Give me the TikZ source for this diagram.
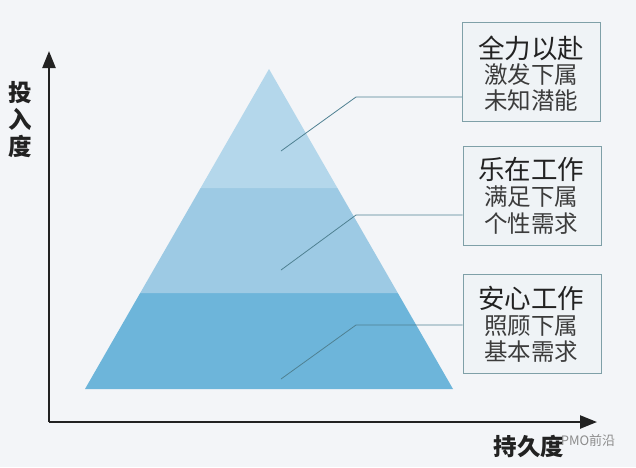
\documentclass[tikz,border=0pt]{standalone}
\usepackage{fontspec}
\setmainfont{Noto Sans CJK SC}
\usetikzlibrary{arrows.meta,calc}
\definecolor{bg}{HTML}{F3F5F8}
\definecolor{lay1}{HTML}{B4D7EB}
\definecolor{lay2}{HTML}{9DCAE4}
\definecolor{lay3}{HTML}{6DB5DA}
\definecolor{leader}{HTML}{4F8192}
\definecolor{boxline}{HTML}{7FA0A8}
\definecolor{boxfill}{HTML}{EFF3F6}
\definecolor{ink}{HTML}{222222}
\definecolor{sub}{HTML}{3C3C3C}
\tikzset{
  lbox/.style={draw=boxline, line width=1pt, fill=boxfill, minimum width=138pt, minimum height=99pt, inner sep=0pt},
  ttl/.style={font=\fontsize{26.5}{26.5}\selectfont, text=ink, inner sep=0pt},
  sublabel/.style={font=\fontsize{23.5}{23.5}\selectfont, text=sub, inner sep=0pt},
  axlabel/.style={font=\fontsize{23.5}{23.5}\selectfont\bfseries, text=ink, inner sep=0pt},
  axis/.style={line width=2.4pt, draw=ink, -{Triangle[length=17pt,width=13pt]}},
  lead/.style={draw=leader, line width=0.8pt}
}
\begin{document}
\begin{tikzpicture}[x=1pt,y=-1pt]
\fill[bg] (0,0) rectangle (636,467);
\useasboundingbox (0,0) rectangle (636,467);
% pyramid layers
\fill[lay3] (85,389) -- (453,389) -- (397.8,293) -- (140.2,293) -- cycle;
\fill[lay2] (140.2,293) -- (397.8,293) -- (337.4,188) -- (200.6,188) -- cycle;
\fill[lay1] (200.6,188) -- (337.4,188) -- (269,69) -- cycle;
% axes
\coordinate (o) at (49,422);
\coordinate (ytip) at (49,51);
\coordinate (xtip) at (597,422);
\draw[axis] (o) -- (ytip);
\draw[axis] (o) -- (xtip);
\node[axlabel] (yl1) at (20,93) {投};
\node[axlabel] (yl2) at (20,119) {入};
\node[axlabel] (yl3) at (20,146) {度};
\node[axlabel] (xl) at (529,446) {持久度};
\node[font=\fontsize{13}{13}\selectfont, text=black!45, inner sep=0pt] (wm) at (588,441) {PMO前沿};
% boxes
\node[lbox] (box1) at (531.5,72) {};
\node[lbox] (box2) at (532,195.5) {};
\node[lbox] (box3) at (532,323.5) {};
\node[ttl] (t1) at (531,48) {全力以赴};
\node[sublabel] (s1a) at (531,75) {激发下属};
\node[sublabel] (s1b) at (531,101) {未知潜能};
\node[ttl] (t2) at (531,169) {乐在工作};
\node[sublabel] (s2a) at (531,197) {满足下属};
\node[sublabel] (s2b) at (531,224) {个性需求};
\node[ttl] (t3) at (531,298) {安心工作};
\node[sublabel] (s3a) at (531,326) {照顾下属};
\node[sublabel] (s3b) at (531,352) {基本需求};
% leaders
\coordinate (p1) at (281,151); \coordinate (k1) at (356,97);
\coordinate (p2) at (281,270); \coordinate (k2) at (356,215);
\coordinate (p3) at (281,379); \coordinate (k3) at (356,325);
\draw[lead] (p1) -- (k1) -- (k1 -| box1.west);
\draw[lead] (p2) -- (k2) -- (k2 -| box2.west);
\draw[lead] (p3) -- (k3) -- (k3 -| box3.west);
\end{tikzpicture}
\end{document}
